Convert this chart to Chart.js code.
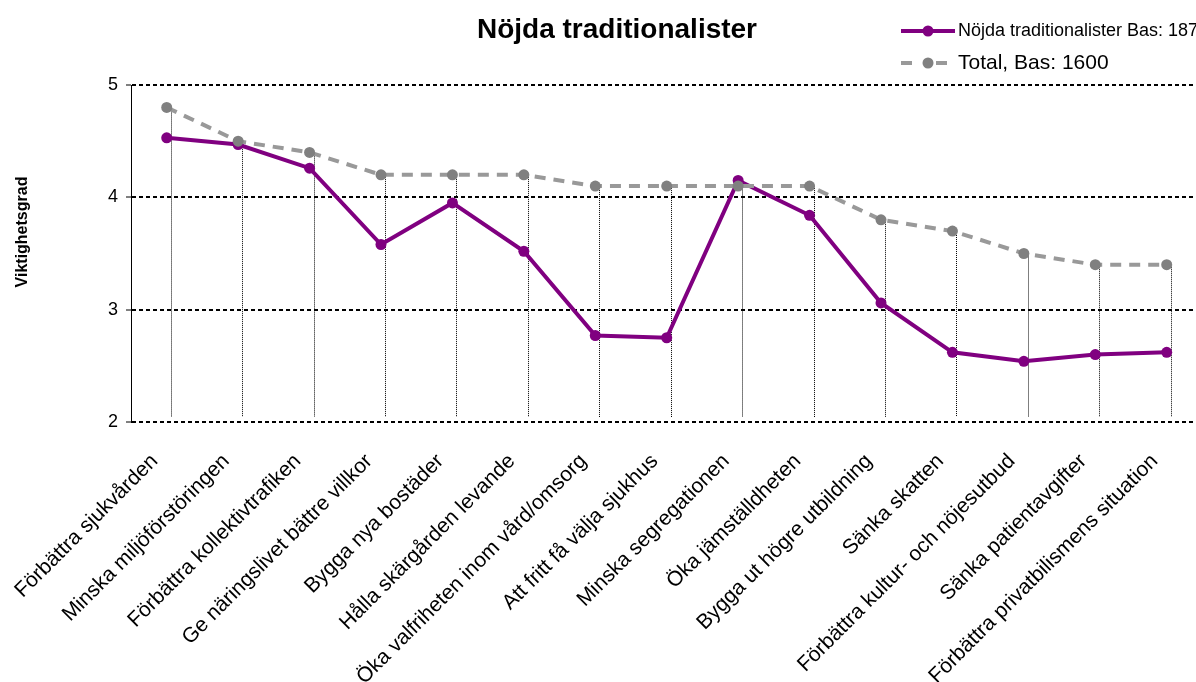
<!DOCTYPE html>
<html>
<head>
<meta charset="utf-8">
<script src="https://cdn.jsdelivr.net/npm/chart.js@4.4.1/dist/chart.umd.min.js"></script>
<style>
  html, body { margin: 0; padding: 0; background: #fff; }
  #wrap { width: 1196px; height: 682px; }
</style>
</head>
<body>
<div id="wrap"><canvas id="chart" width="1196" height="682"></canvas></div>
<script>
// Chart data
const categories = [
  'Förbättra sjukvården',
  'Minska miljöförstöringen',
  'Förbättra kollektivtrafiken',
  'Ge näringslivet bättre villkor',
  'Bygga nya bostäder',
  'Hålla skärgården levande',
  'Öka valfriheten inom vård/omsorg',
  'Att fritt få välja sjukhus',
  'Minska segregationen',
  'Öka jämställdheten',
  'Bygga ut högre utbildning',
  'Sänka skatten',
  'Förbättra kultur- och nöjesutbud',
  'Sänka patientavgifter',
  'Förbättra privatbilismens situation'
];
const traditionalister = [4.53, 4.47, 4.26, 3.58, 3.95, 3.52, 2.77, 2.75, 4.15, 3.84, 3.06, 2.62, 2.54, 2.60, 2.62];
const total = [4.8, 4.5, 4.4, 4.2, 4.2, 4.2, 4.1, 4.1, 4.1, 4.1, 3.8, 3.7, 3.5, 3.4, 3.4];
const yTicks = [2, 3, 4, 5];

const titleText = 'Nöjda traditionalister';
const yTitle = 'Viktighetsgrad';
const tradLabel = 'Nöjda traditionalister Bas: 187';
const totalLabel = 'Total, Bas: 1600';

const FONT = '"Liberation Sans", Arial, sans-serif';
const PURPLE = '#800080';
const GREY_LINE = '#999999';
const GREY_POINT = '#808080';

// vertical dotted lines from the highest point down to the axis
const dropLines = {
  id: 'dropLines',
  beforeDatasetsDraw(chart) {
    const { ctx, scales: { x, y } } = chart;
    ctx.save();
    ctx.strokeStyle = '#000';
    ctx.lineWidth = 1;
    ctx.setLineDash([1, 1]);
    categories.forEach((c, i) => {
      const top = Math.max(traditionalister[i], total[i]);
      const px = Math.round(x.getPixelForValue(i)) + 4.5;
      ctx.beginPath();
      ctx.moveTo(px, y.getPixelForValue(top));
      ctx.lineTo(px, y.getPixelForValue(yTicks[0]) - 5);
      ctx.stroke();
    });
    ctx.restore();
  }
};

// title, y axis title and the legend
const decorations = {
  id: 'decorations',
  afterDraw(chart) {
    const ctx = chart.ctx;
    ctx.save();
    ctx.fillStyle = '#000';
    ctx.textBaseline = 'middle';

    ctx.font = 'bold 28px ' + FONT;
    ctx.textAlign = 'center';
    ctx.fillText(titleText, 617, 30);

    ctx.save();
    ctx.translate(23, 232);
    ctx.rotate(-Math.PI / 2);
    ctx.font = 'bold 16px ' + FONT;
    ctx.fillText(yTitle, 0, 0);
    ctx.restore();

    // legend row 1
    ctx.strokeStyle = PURPLE;
    ctx.lineWidth = 4;
    ctx.beginPath();
    ctx.moveTo(901, 31);
    ctx.lineTo(955, 31);
    ctx.stroke();
    ctx.fillStyle = PURPLE;
    ctx.beginPath();
    ctx.arc(928, 31, 5.5, 0, Math.PI * 2);
    ctx.fill();

    // legend row 2
    ctx.strokeStyle = GREY_LINE;
    ctx.setLineDash([11, 24]);
    ctx.beginPath();
    ctx.moveTo(901, 63);
    ctx.lineTo(955, 63);
    ctx.stroke();
    ctx.setLineDash([]);
    ctx.fillStyle = GREY_POINT;
    ctx.beginPath();
    ctx.arc(928, 63, 5.5, 0, Math.PI * 2);
    ctx.fill();

    ctx.fillStyle = '#000';
    ctx.textAlign = 'left';
    ctx.font = '18px ' + FONT;
    ctx.fillText(tradLabel, 958, 31);
    ctx.font = '21px ' + FONT;
    ctx.fillText(totalLabel, 958, 63);
    ctx.restore();
  }
};

window.onload = function () {
  const ctx = document.getElementById('chart').getContext('2d');

  new Chart(ctx, {
    type: 'line',
    data: {
      datasets: [
        {
          label: tradLabel,
          data: traditionalister.map((v, i) => ({ x: i, y: v })),
          borderColor: PURPLE,
          backgroundColor: PURPLE,
          borderWidth: 4,
          pointRadius: 5.5,
          pointBorderWidth: 0,
          tension: 0,
          order: 1
        },
        {
          label: totalLabel,
          data: total.map((v, i) => ({ x: i, y: v })),
          borderColor: GREY_LINE,
          backgroundColor: GREY_POINT,
          borderDash: [11, 8],
          borderWidth: 4,
          pointRadius: 5.5,
          pointBorderWidth: 0,
          tension: 0,
          order: 0
        }
      ]
    },
    options: {
      responsive: false,
      animation: false,
      layout: { autoPadding: false, padding: { top: 85, left: 0, right: 0, bottom: 0 } },
      plugins: {
        legend: { display: false },
        title: { display: false },
        tooltip: { enabled: false }
      },
      scales: {
        x: {
          type: 'linear',
          min: -0.5,
          max: 14.41,
          afterBuildTicks: s => { s.ticks = categories.map((c, i) => ({ value: i })); },
          afterFit: s => { s.height = 260; s.paddingLeft = 0; s.paddingRight = 0; },
          grid: { display: false },
          border: { display: false },
          ticks: {
            autoSkip: false,
            minRotation: 45,
            maxRotation: 45,
            padding: 19,
            labelOffset: -12,
            color: '#000',
            font: { family: FONT, size: 21 },
            callback: v => categories[v] ?? ''
          }
        },
        y: {
          min: yTicks[0],
          max: yTicks[yTicks.length - 1],
          afterBuildTicks: s => { s.ticks = yTicks.map(v => ({ value: v })); },
          afterFit: s => { s.width = 131; },
          grid: {
            color: '#000',
            lineWidth: 2,
            tickLength: 5,
            tickColor: '#000',
            tickWidth: 1,
            tickBorderDash: []
          },
          border: { display: true, color: '#000', width: 1, dash: [4, 3] },
          ticks: {
            padding: 8,
            color: '#000',
            font: { family: FONT, size: 18 }
          }
        }
      }
    },
    plugins: [dropLines, decorations]
  });
};
</script>
</body>
</html>
